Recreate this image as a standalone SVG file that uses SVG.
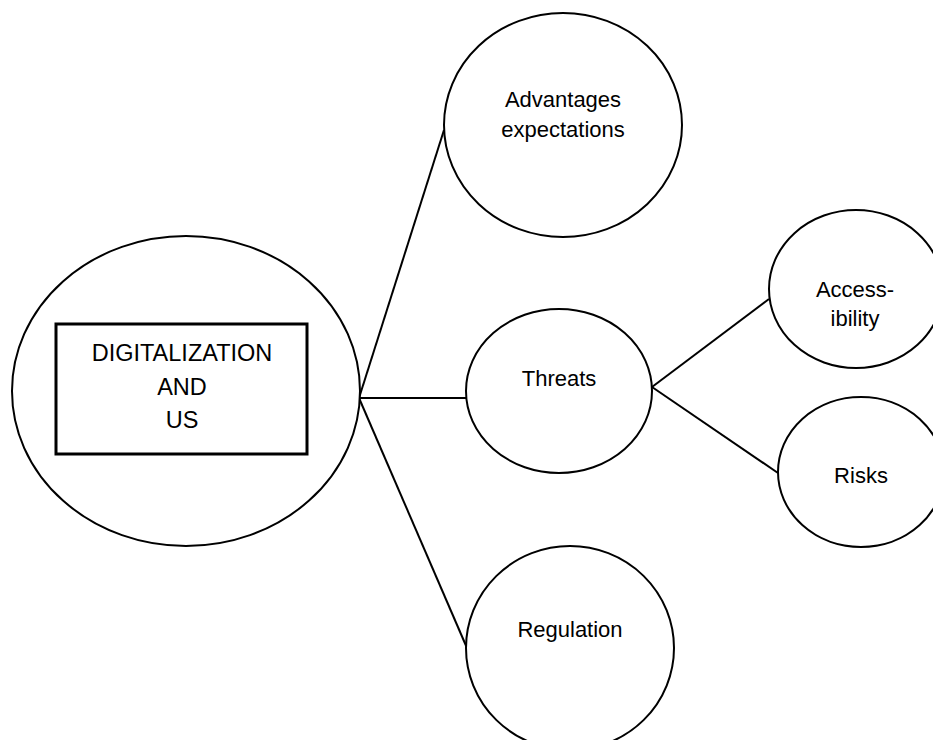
<svg xmlns="http://www.w3.org/2000/svg" width="933" height="740" viewBox="0 0 933 740">
<style>
.n{fill:#fff;stroke:#000;stroke-width:2}
.c{stroke:#000;stroke-width:2;fill:none}
.t{font-family:"Liberation Sans",Arial,sans-serif;font-size:22px;fill:#000;text-anchor:middle}
.big{font-size:23.5px}
</style>
<rect width="933" height="740" fill="#fff"/>
<g id="connectors">
<line class="c" x1="359" y1="398" x2="444" y2="130"/>
<line class="c" x1="359" y1="398" x2="467" y2="398"/>
<line class="c" x1="359" y1="398" x2="467" y2="648"/>
<line class="c" x1="652" y1="387" x2="769" y2="299"/>
<line class="c" x1="652" y1="387" x2="778" y2="473"/>
</g>
<g id="main">
<ellipse class="n" cx="186" cy="391" rx="174" ry="155"/>
<rect x="56" y="324" width="251" height="130" fill="#fff" stroke="#000" stroke-width="3"/>
<text class="t big" x="182" y="361">DIGITALIZATION</text>
<text class="t big" x="182" y="395">AND</text>
<text class="t big" x="182" y="428">US</text>
</g>
<g id="advantages">
<ellipse class="n" cx="563" cy="125" rx="119" ry="112"/>
<text class="t" x="563" y="107">Advantages</text>
<text class="t" x="563" y="137">expectations</text>
</g>
<g id="threats">
<ellipse class="n" cx="559" cy="391" rx="93" ry="82"/>
<text class="t" x="559" y="386">Threats</text>
</g>
<g id="regulation">
<ellipse class="n" cx="570" cy="648" rx="104" ry="102"/>
<text class="t" x="570" y="637">Regulation</text>
</g>
<g id="accessibility">
<ellipse class="n" cx="856" cy="289" rx="87" ry="79"/>
<text class="t" x="855" y="297">Access-</text>
<text class="t" x="855" y="326">ibility</text>
</g>
<g id="risks">
<ellipse class="n" cx="861" cy="472" rx="83" ry="75"/>
<text class="t" x="861" y="483">Risks</text>
</g>
</svg>
